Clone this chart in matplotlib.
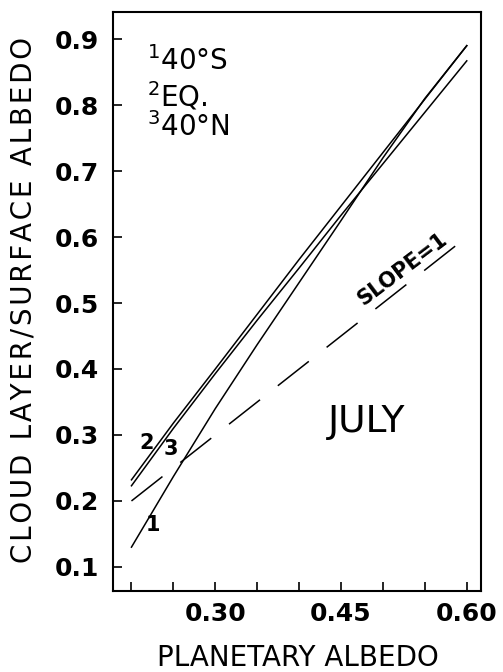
import matplotlib
matplotlib.use("Agg")
import matplotlib.pyplot as plt

plt.rcParams['font.family'] = ['DejaVu Sans']
plt.rcParams['mathtext.fontset'] = 'dejavusans'

# Data
planetary_albedo = [0.20, 0.25, 0.30, 0.35, 0.40, 0.45, 0.50, 0.55, 0.60]
ratio_40S = [0.130, 0.237, 0.340, 0.437, 0.531, 0.625, 0.720, 0.810, 0.890]
ratio_EQ = [0.232, 0.318, 0.400, 0.483, 0.566, 0.647, 0.728, 0.809, 0.890]
ratio_40N = [0.223, 0.310, 0.393, 0.474, 0.553, 0.633, 0.711, 0.789, 0.867]
slope_one_x = [0.20, 0.59]
slope_one_y = [0.20, 0.59]

x_ticks = [0.20, 0.25, 0.30, 0.35, 0.40, 0.45, 0.50, 0.55, 0.60]
x_ticklabels = ['', '', '0.30', '', '', '0.45', '', '', '0.60']
y_ticks = [0.1, 0.2, 0.3, 0.4, 0.5, 0.6, 0.7, 0.8, 0.9]
y_ticklabels = ['0.1', '0.2', '0.3', '0.4', '0.5', '0.6', '0.7', '0.8', '0.9']

fig = plt.figure(figsize=(5.03, 6.72), dpi=100)
ax = fig.add_axes([0.2247, 0.1205, 0.7316, 0.8616])

lw = 1.1
ax.plot(planetary_albedo, ratio_40S, color='black', lw=lw)
ax.plot(planetary_albedo, ratio_EQ, color='black', lw=lw)
ax.plot(planetary_albedo, ratio_40N, color='black', lw=lw)
dash, = ax.plot(slope_one_x, slope_one_y, color='black', lw=lw)
dash.set_dashes([28.4 / lw, 16.3 / lw])

ax.set_xlim(0.178, 0.617)
ax.set_ylim(0.0635, 0.941)

ax.set_xticks(x_ticks)
ax.set_xticklabels(x_ticklabels)
ax.set_yticks(y_ticks)
ax.set_yticklabels(y_ticklabels)
ax.tick_params(direction='in', length=6.5, width=1.2, labelsize=18)
ax.tick_params(axis='y', pad=10)
ax.tick_params(axis='x', pad=8)
for lab in ax.get_xticklabels() + ax.get_yticklabels():
    lab.set_fontweight('bold')

for s in ax.spines.values():
    s.set_linewidth(1.5)

hair = '\u200a'
ax.set_xlabel('PLANETARY ALBEDO', fontsize=20)
ax.xaxis.set_label_coords(0.503, -0.092)
ax.set_ylabel(hair.join('CLOUD LAYER/SURFACE ALBEDO'), fontsize=20)
ax.yaxis.set_label_coords(-0.205, 0.5026)

# Legend text
ax.text(0.218, 0.867, r'$^{1}$40°S', fontsize=20, ha='left', va='center')
ax.text(0.218, 0.814, r'$^{2}$EQ.', fontsize=20, ha='left', va='center')
ax.text(0.218, 0.767, r'$^{3}$40°N', fontsize=20, ha='left', va='center')

ax.text(0.48, 0.32, 'JULY', fontsize=27, ha='center', va='center')

ax.text(0.523, 0.551, 'SLOPE=1', fontsize=15, fontweight='bold',
        ha='center', va='center', rotation=37, rotation_mode='anchor')

ax.text(0.218, 0.288, '2', fontsize=15, fontweight='bold', ha='center', va='center')
ax.text(0.247, 0.278, '3', fontsize=15, fontweight='bold', ha='center', va='center')
ax.text(0.226, 0.1635, '1', fontsize=15, fontweight='bold', ha='center', va='center')

fig.savefig('out.png', dpi=100)
